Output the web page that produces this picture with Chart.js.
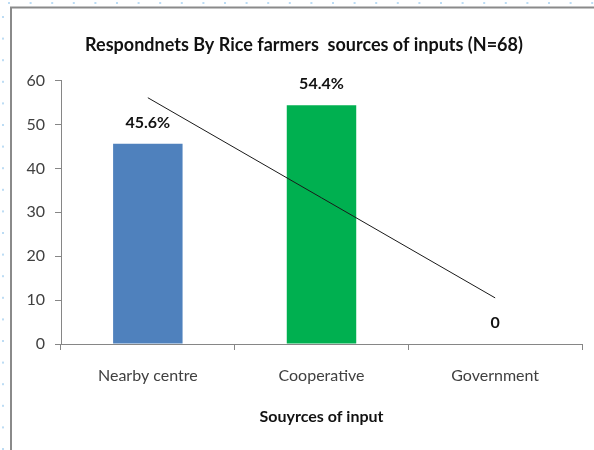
<!DOCTYPE html>
<html>
<head>
<meta charset="utf-8">
<script src="https://cdn.jsdelivr.net/npm/chart.js@4.4.1/dist/chart.umd.min.js"></script>
<style>
  html, body { margin: 0; padding: 0; background: #fff; }
  #wrap { width: 594px; height: 450px; position: relative; }
</style>
</head>
<body>
<div id="wrap"><canvas id="canvas" width="594" height="450"></canvas></div>
<script>
var categories = ['Nearby centre', 'Cooperative', 'Government'];
var sharePct = [45.6, 54.4, 0];
var shareLabels = ['45.6%', '54.4%', '0'];
var trendValues = [56.1, 33.3, 10.5];
var barColors = ['#4f81bd', '#00b050', '#9bbb59'];
var yTicks = [0, 10, 20, 30, 40, 50, 60];

var FONT = 'Lato, "Open Sans", sans-serif';

// slide frame + dotted guides behind the chart
var framePlugin = {
    id: 'frame',
    beforeDraw: function (chart) {
        var ctx = chart.ctx;
        ctx.save();
        ctx.fillStyle = '#fff';
        ctx.fillRect(0, 0, chart.width, chart.height);
        ctx.fillStyle = '#bcdcf4';
        for (var x = 8; x < chart.width; x += 21.6) {
            ctx.fillRect(x, 2, 2, 2);
        }
        for (var y = 16; y < chart.height; y += 21.6) {
            ctx.fillRect(2, y, 2, 2);
        }
        ctx.strokeStyle = '#8a8a8a';
        ctx.lineWidth = 2;
        ctx.beginPath();
        ctx.moveTo(11, chart.height);
        ctx.lineTo(11, 7.5);
        ctx.lineTo(chart.width, 7.5);
        ctx.stroke();
        ctx.restore();
    }
};

// value labels over the bars (dataset 1 = bars)
var labelPlugin = {
    id: 'barLabels',
    afterDatasetsDraw: function (chart) {
        var ctx = chart.ctx;
        var meta = chart.getDatasetMeta(1);
        ctx.save();
        ctx.font = 'bold 16px ' + FONT;
        ctx.fillStyle = '#111';
        ctx.textAlign = 'center';
        ctx.textBaseline = 'middle';
        meta.data.forEach(function (bar, i) {
            ctx.fillText(shareLabels[i], bar.x, bar.y - 21);
        });
        ctx.restore();
    }
};

var ctx = document.getElementById('canvas').getContext('2d');

var myBarChart = new Chart(ctx, {
    type: 'bar',
    data: {
        labels: categories,
        datasets: [
            {
                type: 'line',
                data: trendValues,
                borderColor: '#1a1a1a',
                borderWidth: 1,
                pointRadius: 0,
                fill: false,
                order: 0
            },
            {
                data: sharePct,
                backgroundColor: barColors,
                borderWidth: 0,
                barPercentage: 0.5,
                categoryPercentage: 0.8,
                order: 1
            }
        ]
    },
    options: {
        responsive: false,
        animation: false,
        events: [],
        layout: { padding: { left: 26, right: 12, top: 0, bottom: 0 } },
        plugins: {
            legend: { display: false },
            tooltip: { enabled: false },
            title: {
                display: true,
                text: 'Respondnets By Rice farmers  sources of inputs (N=68)',
                color: '#111',
                font: { family: FONT, size: 18, weight: 'bold' },
                padding: { top: 34, bottom: 25 }
            }
        },
        scales: {
            x: {
                grid: { display: true, drawOnChartArea: false, color: '#868686', tickLength: 6, offset: true },
                border: { color: '#868686', width: 1 },
                ticks: { color: '#404040', font: { family: FONT, size: 16 }, padding: 16 },
                title: {
                    display: true,
                    text: 'Souyrces of input',
                    color: '#111',
                    font: { family: FONT, size: 16, weight: 'bold' },
                    padding: { top: 4, bottom: 24 }
                },
                afterFit: function (scale) { scale.height = 106; }
            },
            y: {
                min: 0,
                max: 60,
                afterBuildTicks: function (scale) {
                    scale.ticks = yTicks.map(function (v) { return { value: v }; });
                },
                grid: { display: true, drawOnChartArea: false, color: '#868686', tickLength: 6 },
                border: { color: '#868686', width: 1 },
                ticks: { color: '#404040', font: { family: FONT, size: 16 }, padding: 10 },
                afterFit: function (scale) { scale.width = 35; }
            }
        }
    },
    plugins: [framePlugin, labelPlugin]
});
</script>
</body>
</html>
